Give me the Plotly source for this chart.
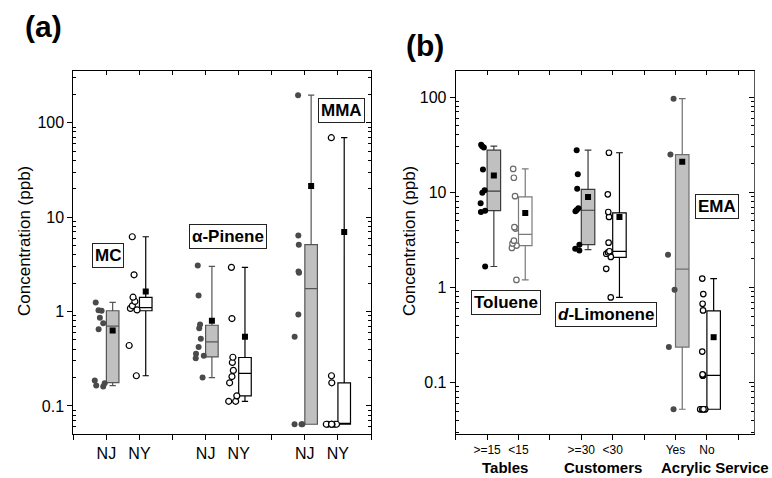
import plotly.graph_objects as go

# ---------------- data ----------------
# Panel (a): compounds by state
a_group_labels = ["MC", "α-Pinene", "MMA"]
a_tick_labels = ["NJ", "NY"]

mc_nj = [1.25, 1.03, 1.02, 0.86, 0.75, 0.65, 0.186, 0.174, 0.165, 0.161]
mc_ny = [6.2, 2.45, 1.42, 1.28, 1.15, 1.08, 1.04, 0.437, 0.209]
pin_nj = [3.07, 1.48, 0.73, 0.666, 0.514, 0.42, 0.357, 0.34, 0.32, 0.20]
pin_ny = [2.94, 0.843, 0.328, 0.289, 0.238, 0.205, 0.176, 0.128, 0.112, 0.112]
mma_nj = [196, 6.4, 5.1, 2.65, 2.57, 0.93, 0.54, 0.064, 0.064, 0.064]
mma_ny = [69.4, 0.209, 0.176, 0.064, 0.064, 0.064, 0.064, 0.064, 0.064, 0.064]

# box statistics: lower whisker, q1, median, q3, upper whisker, mean
a_lower = [0.164, 0.209, 0.20, 0.112, 0.064, 0.064]
a_q1 = [0.177, 1.02, 0.331, 0.128, 0.064, 0.064]
a_median = [0.70, 1.10, 0.478, 0.221, 1.75, 0.064]
a_q3 = [1.02, 1.41, 0.716, 0.326, 5.11, 0.176]
a_upper = [1.25, 6.2, 3.01, 2.94, 196, 69.4]
a_mean = [0.63, 1.63, 0.80, 0.54, 21.4, 6.97]

# Panel (b): compounds by salon characteristic
b_group_labels = ["Tables", "Customers", "Acrylic Service"]
b_compound_labels = ["Toluene", "<i>d</i>-Limonene", "EMA"]
b_tick_labels = [">=15", "<15", ">=30", "<30", "Yes", "No"]

tol_ge15 = [31.5, 30.5, 29.5, 17.3, 10.5, 9.86, 7.66, 6.4, 6.2, 1.66]
tol_lt15 = [17.6, 14.2, 9.1, 4.3, 4.15, 3.1, 2.9, 2.75, 2.6, 1.2]
lim_ge30 = [27.7, 15.5, 10.9, 6.8, 6.5, 6.3, 2.8, 2.55, 2.45]
lim_lt30 = [26.0, 9.5, 6.2, 5.5, 2.95, 2.4, 2.33, 2.26, 2.09, 1.57, 0.785]
ema_yes = [96.2, 24.9, 2.21, 0.946, 0.236, 0.0525]
ema_no = [1.24, 0.852, 0.674, 0.573, 0.212, 0.122, 0.12, 0.118,
          0.0525, 0.0525, 0.0525, 0.0525, 0.0525, 0.0525]

b_lower = [1.66, 1.2, 2.49, 0.785, 0.0525, 0.0525]
b_q1 = [6.41, 2.75, 2.81, 2.07, 0.236, 0.0525]
b_median = [10.3, 3.61, 6.47, 2.39, 1.56, 0.119]
b_q3 = [27.7, 8.94, 10.7, 6.07, 24.9, 0.568]
b_upper = [30.5, 17.6, 27.7, 26.0, 96.2, 1.24]
b_mean = [15.0, 6.07, 8.94, 5.51, 20.9, 0.30]

# ---------------- styles ----------------
FONT = "Liberation Sans, Arial, sans-serif"
W, H = 772, 478
GRAY_FILL = "#c0c0c0"


def px(x):
    return x / W


def py(y):
    return 1 - y / H


fig = go.Figure()


def add_panel(points, lower, q1, median, q3, upper, mean, styles, xa, ya,
              width, pointpos, jitter):
    centers = []
    for i, vals in enumerate(points):
        g, k = divmod(i, 2)
        cat = 3 * g + 1 + k
        pos = cat + width / 2
        centers.append(pos)
        st = styles[i]
        # box (precomputed statistics)
        fig.add_trace(go.Box(
            x=[pos], q1=[q1[i]], median=[median[i]], q3=[q3[i]],
            lowerfence=[lower[i]], upperfence=[upper[i]],
            width=width, whiskerwidth=0.5, boxpoints=False,
            fillcolor=st["fill"], line=dict(color=st["line"], width=1.2),
            xaxis=xa, yaxis=ya, showlegend=False, hoverinfo="skip"))
        # raw sample points, jittered to the left of the box
        fig.add_trace(go.Box(
            x=[pos] * len(vals), y=vals, boxpoints="all",
            jitter=jitter, pointpos=pointpos, width=width,
            fillcolor="rgba(0,0,0,0)",
            line=dict(color="rgba(0,0,0,0)", width=0),
            marker=dict(size=st["msize"], color=st["mcolor"],
                        line=dict(color=st["mline"], width=st["mlw"])),
            xaxis=xa, yaxis=ya, showlegend=False, hoverinfo="skip"))
    fig.add_trace(go.Scatter(
        x=centers, y=mean, mode="markers",
        marker=dict(symbol="square", size=6, color="black"),
        xaxis=xa, yaxis=ya, showlegend=False, hoverinfo="skip"))


filled_a = dict(fill=GRAY_FILL, line="#555555", mcolor="#4a4a4a",
                mline="#4a4a4a", mlw=0, msize=6)
open_a = dict(fill="white", line="black", mcolor="white",
              mline="black", mlw=1.2, msize=6)
styles_a = [filled_a, open_a] * 3

filled_b = dict(fill=GRAY_FILL, line="#3a3a3a", mcolor="black",
                mline="black", mlw=0, msize=6)
open_b_gray = dict(fill="white", line="#7a7a7a", mcolor="white",
                   mline="#6a6a6a", mlw=1.2, msize=5.5)
open_b = dict(fill="white", line="black", mcolor="white",
              mline="black", mlw=1.2, msize=5.5)
filled_b_gray = dict(fill=GRAY_FILL, line="#6f6f6f", mcolor="#4a4a4a",
                     mline="#4a4a4a", mlw=0, msize=6)
styles_b = [filled_b, open_b_gray, filled_b, open_b, filled_b_gray, open_b]

add_panel([mc_nj, mc_ny, pin_nj, pin_ny, mma_nj, mma_ny],
          a_lower, a_q1, a_median, a_q3, a_upper, a_mean,
          styles_a, "x", "y", 0.38, -2.0, 1.0)
add_panel([tol_ge15, tol_lt15, lim_ge30, lim_lt30, ema_yes, ema_no],
          b_lower, b_q1, b_median, b_q3, b_upper, b_mean,
          styles_b, "x2", "y2", 0.43, -1.6, 0.6)

# dummy traces so the mirrored (top / right) axes are drawn
fig.add_trace(go.Scatter(x=[None], y=[None], xaxis="x3", yaxis="y3",
                         showlegend=False, hoverinfo="skip"))
fig.add_trace(go.Scatter(x=[None], y=[None], xaxis="x4", yaxis="y4",
                         showlegend=False, hoverinfo="skip"))

# ---------------- axes ----------------
dom_a = [px(73.3), px(371)]
dom_b = [px(455.7), px(754)]
dom_y = [py(434), py(71)]
yr_a = [-1.297, 2.548]
yr_b = [-1.54, 2.274]
xr_a = [0, 9]
xr_b = [0, 9.5]

major_vals = [0.1, 1, 10, 100]
major_text = ["0.1", "1", "10", "100"]
minor_vals = [m * d for d in (0.01, 0.1, 1, 10, 100) for m in range(2, 10)]

a_ticktext = []
for g in range(3):
    a_ticktext += [""] + a_tick_labels
a_ticktext += [""]
b_ticktext = []
for g in range(3):
    b_ticktext += [""] + b_tick_labels[2 * g:2 * g + 2]
b_ticktext += [""]

common_x = dict(showgrid=False, zeroline=False, showline=True,
                linecolor="black", linewidth=1, ticks="outside", ticklen=5,
                tickcolor="black", tickmode="array",
                tickvals=list(range(10)))
minor_y = dict(ticks="inside", ticklen=3, tickcolor="black", tickwidth=1,
               tickmode="array", tickvals=minor_vals, showgrid=False)
common_y = dict(type="log", showgrid=False, zeroline=False, showline=True,
                linecolor="black", linewidth=1, ticks="outside", ticklen=5,
                tickcolor="black", tickmode="array", tickvals=major_vals,
                ticktext=major_text,
                tickfont=dict(size=16, color="black", family=FONT),
                minor=minor_y)
right_y = dict(type="log", side="right", showgrid=False, zeroline=False,
               showline=True, linewidth=1, ticks="inside", ticklen=5,
               tickcolor="black", tickmode="array", tickvals=major_vals,
               showticklabels=False, minor=minor_y)

fig.update_layout(
    xaxis=dict(domain=dom_a, range=xr_a, anchor="y", ticktext=a_ticktext,
               tickfont=dict(size=16, color="black", family=FONT), **common_x),
    xaxis2=dict(domain=dom_b, range=xr_b, anchor="y2", ticktext=b_ticktext,
                tickfont=dict(size=12, color="black", family=FONT), **common_x),
    xaxis3=dict(overlaying="x", side="top", range=xr_a, anchor="y3",
                showgrid=False, zeroline=False, showline=True,
                linecolor="black", linewidth=1, ticks="inside", ticklen=4,
                tickcolor="black", tickvals=list(range(10)),
                showticklabels=False),
    xaxis4=dict(overlaying="x2", side="top", range=xr_b, anchor="y4",
                showgrid=False, zeroline=False, showline=True,
                linecolor="black", linewidth=1, ticks="inside", ticklen=4,
                tickcolor="black", tickvals=list(range(10)),
                showticklabels=False),
    yaxis=dict(domain=dom_y, range=yr_a, anchor="x", **common_y),
    yaxis2=dict(domain=dom_y, range=yr_b, anchor="x2", **common_y),
    yaxis3=dict(overlaying="y", range=yr_a, anchor="x3", linecolor="black",
                **right_y),
    yaxis4=dict(overlaying="y2", range=yr_b, anchor="x4", linecolor="#555",
                **right_y),
)

# ---------------- annotations ----------------
ann = []
ann.append(dict(text="<b>(a)</b>", x=px(43), y=py(27)))
ann.append(dict(text="<b>(b)</b>", x=px(425), y=py(46)))
for a in ann:
    a.update(xref="paper", yref="paper", showarrow=False,
             font=dict(size=30, color="black", family=FONT),
             xanchor="center", yanchor="middle")

for xp in (25, 410):
    ann.append(dict(text="Concentration (ppb)", x=px(xp), y=py(241),
                    xref="paper", yref="paper", showarrow=False,
                    textangle=-90, xanchor="center", yanchor="middle",
                    font=dict(size=17, color="black", family=FONT)))

box_label_pos = [(108.4, 255.2), (227.5, 236), (341, 110)]
box_label_pos_b = [(506, 302), (605.7, 314.5), (717, 206.7)]
for text, (xp, yp) in list(zip(a_group_labels, box_label_pos)) + \
        list(zip(b_compound_labels, box_label_pos_b)):
    ann.append(dict(text="<b>" + text + "</b>", x=px(xp), y=py(yp),
                    xref="paper", yref="paper", showarrow=False,
                    xanchor="center", yanchor="middle",
                    bordercolor="#222", borderwidth=1, borderpad=2,
                    bgcolor="white",
                    font=dict(size=17, color="black", family=FONT)))

group_x = [505, 602.5, 715]
for text, xp in zip(b_group_labels, group_x):
    ann.append(dict(text="<b>" + text + "</b>", x=px(xp), y=py(467),
                    xref="paper", yref="paper", showarrow=False,
                    xanchor="center", yanchor="middle",
                    font=dict(size=15, color="black", family=FONT)))

fig.update_layout(
    annotations=ann,
    width=W, height=H,
    margin=dict(l=0, r=0, t=0, b=0),
    paper_bgcolor="white", plot_bgcolor="white",
    showlegend=False, boxmode="overlay",
    font=dict(family=FONT, color="black"),
)

fig.write_html("out.html")
